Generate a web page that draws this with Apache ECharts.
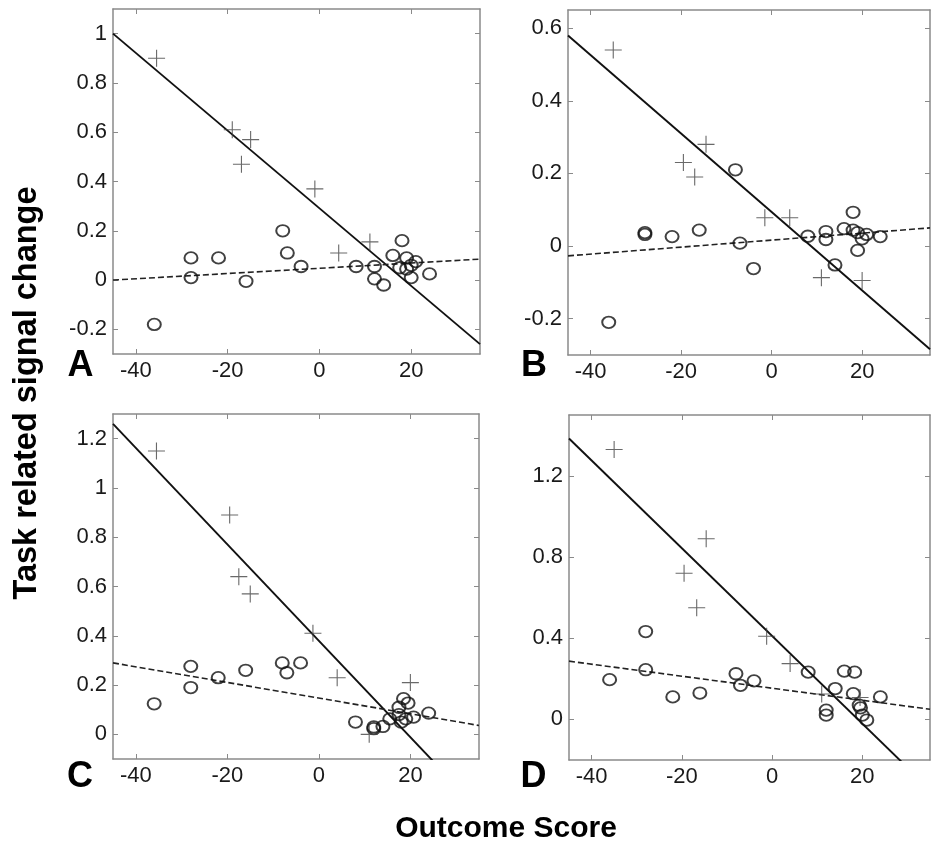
<!DOCTYPE html>
<html>
<head>
<meta charset="utf-8">
<script src="https://cdn.jsdelivr.net/npm/echarts@6/dist/echarts.min.js"></script>
<style>html,body{margin:0;padding:0;background:#fff;}#c{width:931px;height:846px;}</style>
</head>
<body>
<div id="c"></div>
<script>
// ---- data ----
const xTicks = [-40, -20, 0, 20];
const xRange = [-45, 35];

const yRangeA = [-0.3, 1.1];
const yTicksA = [-0.2, 0, 0.2, 0.4, 0.6, 0.8, 1];
const crossesA = [[-35.5, 0.90], [-19, 0.61], [-15, 0.57], [-17, 0.47], [-1, 0.37], [4.2, 0.11], [11, 0.155]];
const circlesA = [[-36, -0.18], [-28, 0.09], [-28, 0.01], [-22, 0.09], [-16, -0.005], [-8, 0.20], [-7, 0.11], [-4, 0.055],
  [8, 0.055], [12, 0.055], [12, 0.005], [14, -0.02], [16, 0.10], [18, 0.16], [17.5, 0.05], [19, 0.09], [19, 0.045],
  [20, 0.01], [21, 0.075], [24, 0.025], [20, 0.06]];
const solidA = [[-45, 1.0], [35, -0.26]];
const dashedA = [[-45, 0.0], [35, 0.085]];

const yRangeB = [-0.3, 0.65];
const yTicksB = [-0.2, 0, 0.2, 0.4, 0.6];
const crossesB = [[-35, 0.54], [-19.5, 0.23], [-17, 0.19], [-14.5, 0.28], [-1.5, 0.078], [4, 0.078], [11, -0.087], [20, -0.095]];
const circlesB = [[-36, -0.21], [-28, 0.032], [-28, 0.037], [-22, 0.026], [-16, 0.044], [-8, 0.21], [-7, 0.008], [-4, -0.062],
  [8, 0.027], [12, 0.04], [12, 0.018], [14, -0.052], [16, 0.048], [18, 0.093], [18, 0.044], [19, 0.037], [19, -0.012],
  [20, 0.02], [21, 0.032], [24, 0.026]];
const solidB = [[-45, 0.58], [35, -0.284]];
const dashedB = [[-45, -0.027], [35, 0.05]];

const yRangeC = [-0.1, 1.3];
const yTicksC = [0, 0.2, 0.4, 0.6, 0.8, 1, 1.2];
const crossesC = [[-35.5, 1.15], [-19.5, 0.89], [-17.5, 0.64], [-15, 0.57], [-1.3, 0.41], [4, 0.23], [20, 0.21], [11, 0.0]];
const circlesC = [[-36, 0.124], [-28, 0.276], [-28, 0.19], [-22, 0.23], [-16, 0.26], [-8, 0.29], [-7, 0.25], [-4, 0.29],
  [8, 0.05], [12, 0.023], [12, 0.03], [14, 0.032], [15.5, 0.063], [17.5, 0.08], [17.5, 0.11], [18.5, 0.145], [19.5, 0.127],
  [18, 0.05], [19, 0.063], [20.7, 0.07], [24, 0.086]];
const solidC = [[-45, 1.26], [35, -0.305]];
const dashedC = [[-45, 0.29], [35, 0.036]];

const yRangeD = [-0.2, 1.5];
const yTicksD = [0, 0.4, 0.8, 1.2];
const crossesD = [[-35, 1.33], [-19.5, 0.72], [-16.7, 0.55], [-14.6, 0.89], [-1.2, 0.41], [4, 0.275], [11, 0.125], [19.5, 0.108]];
const circlesD = [[-36, 0.196], [-28, 0.433], [-28, 0.245], [-22, 0.111], [-16, 0.13], [-8, 0.225], [-7, 0.168], [-4, 0.19],
  [8, 0.233], [12, 0.046], [12, 0.021], [14, 0.152], [16, 0.238], [18.3, 0.233], [18, 0.127], [19.3, 0.07], [19.6, 0.057],
  [20, 0.021], [21, -0.003], [24, 0.111]];
const solidD = [[-45, 1.384], [35, -0.345]];
const dashedD = [[-45, 0.287], [35, 0.05]];

const panelLetters = ['A', 'B', 'C', 'D'];
const yTitle = 'Task related signal change';
const xTitle = 'Outcome Score';

// ---- chart ----
const panels = [
  {yr: yRangeA, yt: yTicksA, cr: crossesA, ci: circlesA, so: solidA, da: dashedA},
  {yr: yRangeB, yt: yTicksB, cr: crossesB, ci: circlesB, so: solidB, da: dashedB},
  {yr: yRangeC, yt: yTicksC, cr: crossesC, ci: circlesC, so: solidC, da: dashedC},
  {yr: yRangeD, yt: yTicksD, cr: crossesD, ci: circlesD, so: solidD, da: dashedD}
];
const grids = [
  {left: 113, top: 9, width: 367, height: 345},
  {left: 568, top: 10, width: 362, height: 345},
  {left: 113, top: 414, width: 366, height: 345},
  {left: 569, top: 415, width: 361, height: 345}
];
const frameColor = '#8a8a8a';
const labelFont = {fontFamily: 'Liberation Sans', fontSize: 22, color: '#1a1a1a'};
const fmt = v => String(Math.round(v * 100) / 100);

const xAxis = [], yAxis = [], series = [];
panels.forEach((p, i) => {
  const common = {
    axisLine: {show: true, onZero: false, lineStyle: {color: frameColor, width: 1.5}},
    splitLine: {show: false}
  };
  xAxis.push(Object.assign({type: 'value', gridIndex: i, position: 'bottom', min: xRange[0], max: xRange[1],
    axisTick: {show: true, inside: true, length: 5, customValues: xTicks, lineStyle: {color: frameColor}},
    axisLabel: Object.assign({show: true, customValues: xTicks, margin: 6, formatter: fmt}, labelFont)}, common));
  xAxis.push(Object.assign({type: 'value', gridIndex: i, position: 'top', min: xRange[0], max: xRange[1],
    axisTick: {show: true, inside: true, length: 5, customValues: xTicks, lineStyle: {color: frameColor}},
    axisLabel: {show: false}}, common));
  yAxis.push(Object.assign({type: 'value', gridIndex: i, position: 'left', min: p.yr[0], max: p.yr[1],
    axisTick: {show: true, inside: true, length: 5, customValues: p.yt, lineStyle: {color: frameColor}},
    axisLabel: Object.assign({show: true, customValues: p.yt, margin: 6, formatter: fmt}, labelFont)}, common));
  yAxis.push(Object.assign({type: 'value', gridIndex: i, position: 'right', min: p.yr[0], max: p.yr[1],
    axisTick: {show: true, inside: true, length: 5, customValues: p.yt, lineStyle: {color: frameColor}},
    axisLabel: {show: false}}, common));
  const xi = 2 * i, yi = 2 * i;
  series.push({type: 'line', xAxisIndex: xi, yAxisIndex: yi, data: p.so, showSymbol: false, clip: true,
    lineStyle: {color: '#111', width: 1.9}, z: 3});
  series.push({type: 'line', xAxisIndex: xi, yAxisIndex: yi, data: p.da, showSymbol: false, clip: true,
    lineStyle: {color: '#222', width: 1.6, type: [6, 3]}, z: 3});
  series.push({type: 'scatter', xAxisIndex: xi, yAxisIndex: yi, data: p.ci, symbol: 'circle', symbolSize: [13, 11.5],
    itemStyle: {color: 'rgba(0,0,0,0)', borderColor: '#111', borderWidth: 1.9}, z: 4});
  series.push({type: 'scatter', xAxisIndex: xi, yAxisIndex: yi, data: p.cr, symbol: 'path://M10,0L10,20M0,10L20,10',
    symbolSize: 17, itemStyle: {color: 'none', borderColor: '#444', borderWidth: 1.1}, z: 4});
});

const letterPos = [[80.5, 366], [534, 366], [80, 777], [533.5, 777]];
const graphic = panelLetters.map((t, i) => ({
  type: 'text', x: letterPos[i][0], y: letterPos[i][1],
  style: {text: t, fontFamily: 'Liberation Sans', fontWeight: 'bold', fontSize: 36, fill: '#000',
    align: 'center', verticalAlign: 'middle'}
}));
graphic.push({type: 'text', x: 27, y: 393, rotation: Math.PI / 2,
  style: {text: yTitle, fontFamily: 'Liberation Sans', fontWeight: 'bold', fontSize: 32.5, fill: '#000',
    align: 'center', verticalAlign: 'middle'}});
graphic.push({type: 'text', x: 506, y: 829,
  style: {text: xTitle, fontFamily: 'Liberation Sans', fontWeight: 'bold', fontSize: 30, fill: '#000',
    align: 'center', verticalAlign: 'middle'}});

const chart = echarts.init(document.getElementById('c'), null, {renderer: 'canvas'});
chart.setOption({
  animation: false,
  backgroundColor: '#fff',
  grid: grids,
  xAxis: xAxis,
  yAxis: yAxis,
  series: series,
  graphic: graphic
});
</script>
</body>
</html>
